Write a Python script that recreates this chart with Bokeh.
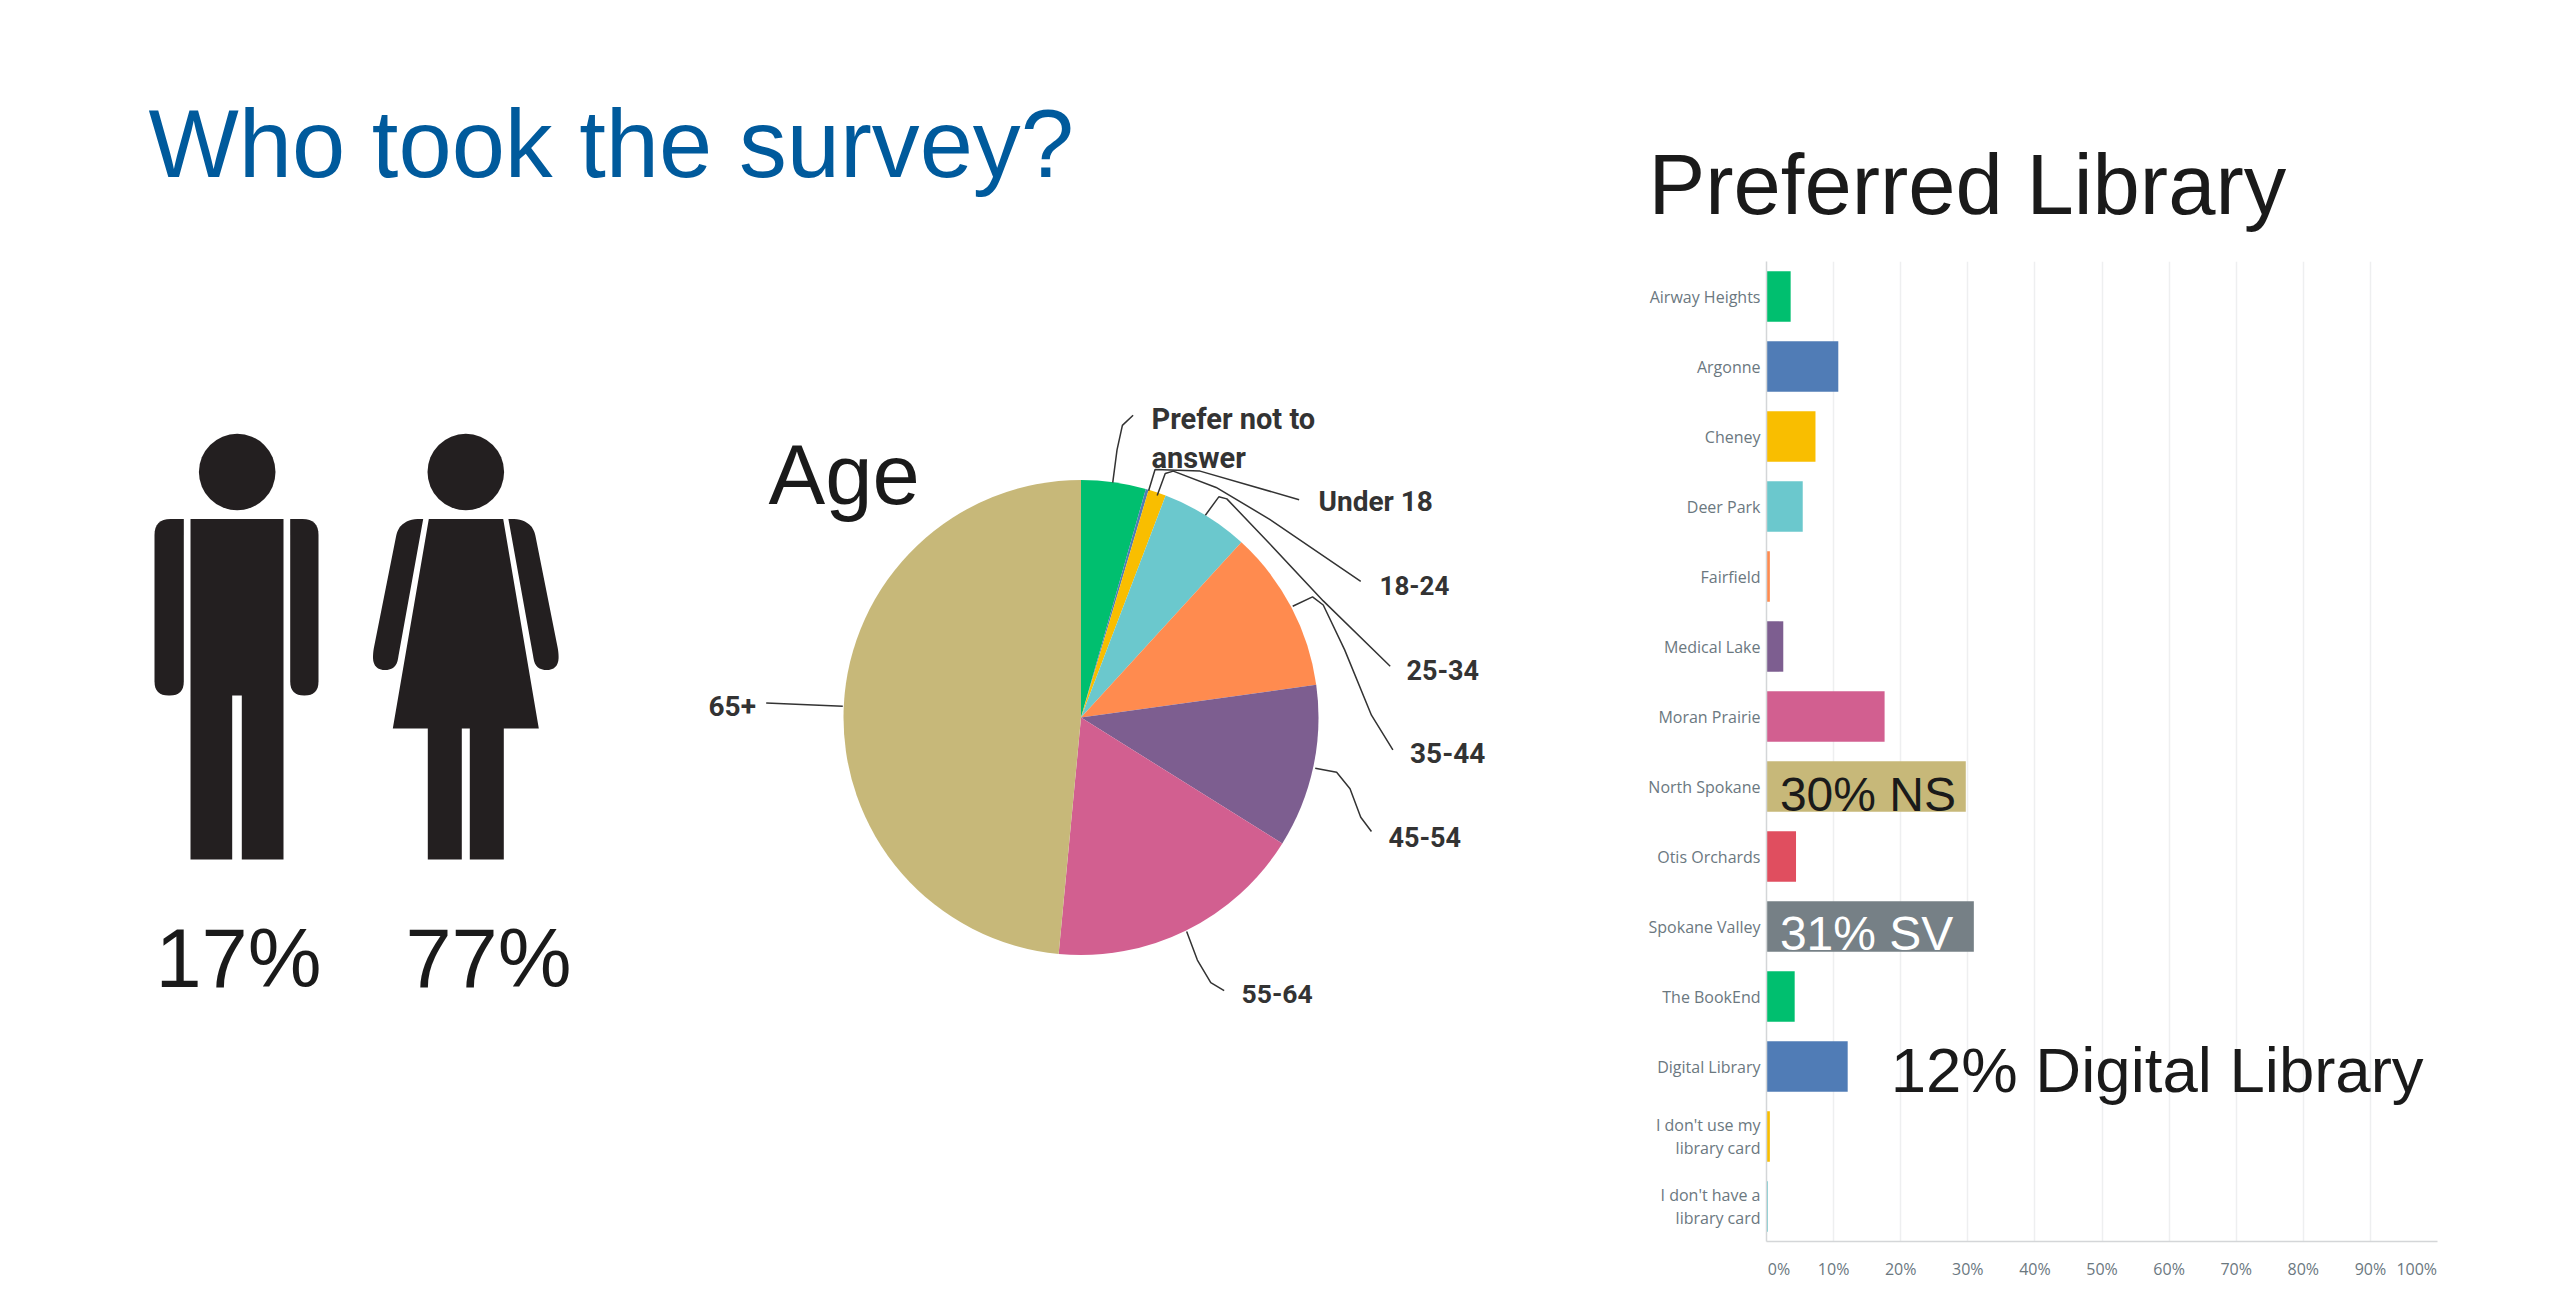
import math
from bokeh.plotting import figure
from bokeh.layouts import row, column
from bokeh.models import Range1d, FactorRange, FixedTicker
from bokeh.core.properties import value
from bokeh.embed import file_html
from bokeh.resources import INLINE

# ---------- data ----------
age_labels = ["Prefer not to answer", "Under 18", "18-24", "25-34", "35-44", "45-54", "55-64", "65+"]
age_values = [4.4, 0.2, 1.2, 6.0, 11.0, 11.1, 17.6, 48.5]
age_colors = ["#00bf6f", "#507cb6", "#f9be00", "#6bc8cd", "#ff8b4f", "#7d5e90", "#d25f90", "#c7b879"]

library_names = ["Airway Heights", "Argonne", "Cheney", "Deer Park", "Fairfield", "Medical Lake",
                 "Moran Prairie", "North Spokane", "Otis Orchards", "Spokane Valley", "The BookEnd",
                 "Digital Library", "I don't use my\nlibrary card", "I don't have a\nlibrary card"]
library_values = [3.6, 10.7, 7.3, 5.4, 0.5, 2.5, 17.6, 29.7, 4.4, 30.9, 4.2, 12.1, 0.5, 0.2]
library_colors = ["#00bf6f", "#507cb6", "#f9be00", "#6bc8cd", "#ff8b4f", "#7d5e90", "#d25f90",
                  "#c7b879", "#e04e5f", "#768086", "#00bf6f", "#507cb6", "#f9be00", "#6bc8cd"]
pct_ticks = list(range(0, 101, 10))
gender_labels = ["17%", "77%"]

INK = "#1a1a1a"
ICON = "#231f20"
ARIAL = value("Liberation Sans")
H = 1311
NB = "\u00a0"


def fy(y):
    return H - y


def rounded(pts, radii, n=8):
    """Polygon with rounded corners, page pixel coordinates."""
    xs, ys = [], []
    m = len(pts)
    for i, (px, py) in enumerate(pts):
        r = radii[i]
        if r == 0:
            xs.append(px); ys.append(py)
            continue
        ax, ay = pts[i - 1]
        bx, by = pts[(i + 1) % m]
        la = math.hypot(ax - px, ay - py)
        lb = math.hypot(bx - px, by - py)
        s = (px + (ax - px) * r / la, py + (ay - py) * r / la)
        e = (px + (bx - px) * r / lb, py + (by - py) * r / lb)
        for k in range(n + 1):
            t = k / n
            xs.append((1 - t) ** 2 * s[0] + 2 * t * (1 - t) * px + t ** 2 * e[0])
            ys.append((1 - t) ** 2 * s[1] + 2 * t * (1 - t) * py + t ** 2 * e[1])
    return xs, [fy(y) for y in ys]


# ---------- left panel ----------
left = figure(width=1640, height=H, x_range=Range1d(0, 1640), y_range=Range1d(0, H),
              output_backend="svg", toolbar_location=None, min_border=0, outline_line_color=None)
left.axis.visible = False
left.grid.visible = False

left.text(x=[148], y=[fy(143)], text=["Who took the survey?"], text_font=ARIAL,
          text_font_size="95.7px", text_color="#005a9c", text_baseline="alphabetic")

# icons
shapes = [
    rounded([(154, 518.6), (183.3, 518.6), (183.3, 695), (154, 695)], [16, 0, 14, 14]),
    rounded([(289.7, 518.6), (318, 518.6), (318, 695), (289.7, 695)], [0, 16, 14, 14]),
    rounded([(190, 518.6), (283, 518.6), (283, 859), (241.3, 859), (241.3, 695), (231.7, 695),
             (231.7, 859), (190, 859)], [0] * 8),
    rounded([(428.3, 518.6), (502.7, 518.6), (538.3, 728), (503.3, 728), (503.3, 859), (469.3, 859),
             (469.3, 728), (461.3, 728), (461.3, 859), (427.3, 859), (427.3, 728), (392.3, 728)], [0] * 12),
    rounded([(422.7, 518.6), (405, 518.6), (396.7, 530), (372.3, 653), (373, 669.6), (396, 669.6), (397.7, 657)],
            [0, 12, 6, 6, 12, 12, 3]),
    rounded([(507.9, 518.6), (525.6, 518.6), (533.9, 530), (558.3, 653), (557.6, 669.6), (534.6, 669.6), (532.9, 657)],
            [0, 12, 6, 6, 12, 12, 3]),
]
left.patches([s[0] for s in shapes], [s[1] for s in shapes], fill_color=ICON, line_color=None)
left.circle(x=[236.7, 465.3], y=[fy(471.5), fy(471.5)], radius=38.3, fill_color=ICON, line_color=None)
left.text(x=[238, 488], y=[fy(958), fy(958)], text=gender_labels, text_font=ARIAL, text_font_size="83px",
          text_color=INK, text_align="center", text_baseline="alphabetic")
left.text(x=[768], y=[fy(474)], text=["Age"], text_font=ARIAL, text_font_size="85px",
          text_color=INK, text_baseline="alphabetic")

# pie
total = sum(age_values)
cx, cy, R = 1080.5, fy(717), 237.5
starts, ends = [], []
acc = 0.0
for v in age_values:
    ends.append(math.pi / 2 - 2 * math.pi * acc / total)
    acc += v
    starts.append(math.pi / 2 - 2 * math.pi * acc / total)
left.wedge(x=[cx] * len(age_values), y=[cy] * len(age_values), radius=R, start_angle=starts, end_angle=ends,
           fill_color=age_colors, line_color=None)


def z(pts):
    return ([680 + a / 1.867 for a, _ in pts], [fy(380 + b / 2.45) for _, b in pts])


leaders = [
    [(807, 250), (815, 170), (825, 110), (845, 85)],
    [(874, 270), (886, 218), (970, 222), (1155, 292)],
    [(890, 282), (905, 228), (920, 222), (1000, 262), (1100, 340), (1270, 492)],
    [(980, 330), (1005, 285), (1020, 290), (1100, 400), (1200, 540), (1325, 700)],
    [(1143, 553), (1180, 530), (1200, 550), (1240, 660), (1290, 820), (1330, 905)],
    [(1185, 950), (1225, 960), (1250, 1000), (1270, 1070), (1290, 1105)],
    [(945, 1350), (965, 1420), (990, 1475), (1015, 1495)],
    [(303, 798), (160, 790)],
]
lx, ly = zip(*[z(l) for l in leaders])
left.multi_line(list(lx), list(ly), line_color="#333333", line_width=1.5)

label_text = ["Prefer not to", "answer", "Under 18", "18-24", "25-34", "35-44", "45-54", "55-64", "65+"]
label_x = [1151, 1151, 1318, 1379, 1406, 1409.5, 1388, 1241, 708]
label_y = [418, 457.5, 501, 585, 669, 752, 836, 993.5, 705]
label_size = [29, 29, 28, 26, 27, 28, 27, 26.5, 28]
for t, x, y, s in zip(label_text, label_x, label_y, label_size):
    left.text(x=[x], y=[fy(y)], text=[t], text_font=value("Roboto"), text_font_style="bold",
              text_font_size=f"{s}px", text_color="#333333", text_baseline="middle")

# ---------- right panel ----------
right = figure(width=920, height=H, x_range=Range1d(0, 100),
               y_range=FactorRange(factors=library_names[::-1], range_padding=0, factor_padding=0),
               output_backend="svg", toolbar_location=None, outline_line_color=None,
               min_border_left=126, min_border_right=123, min_border_top=261, min_border_bottom=70)
right.title.text = "Preferred Library"
right.title.text_font = "Liberation Sans"
right.title.text_font_size = "85px"
right.title.text_font_style = "normal"
right.title.text_color = INK
right.title.align = "left"
right.title.offset = -118
right.title.standoff = 59

right.hbar(y=library_names, left=0, right=library_values, height=0.72, fill_color=library_colors, line_color=None)

right.ygrid.visible = False
right.xgrid.ticker = FixedTicker(ticks=pct_ticks)
right.xgrid.grid_line_color = "#eeeff0"
right.xgrid.grid_line_width = 1.5

right.xaxis.ticker = FixedTicker(ticks=pct_ticks)
tick_text = {t: f"{t}%" for t in pct_ticks}
tick_text[pct_ticks[0]] = NB * 6 + tick_text[pct_ticks[0]]
tick_text[pct_ticks[-1]] = tick_text[pct_ticks[-1]] + NB * 10
right.xaxis.major_label_overrides = tick_text
right.xaxis.major_tick_line_color = None
right.xaxis.minor_tick_line_color = None
right.xaxis.axis_line_color = "#d4d6d8"
right.xaxis.axis_line_width = 1.5
right.xaxis.major_label_text_font = "Open Sans"
right.xaxis.major_label_text_font_size = "16px"
right.xaxis.major_label_text_color = "#6b787f"
right.xaxis.major_label_standoff = 10

right.yaxis.major_tick_line_color = None
right.yaxis.minor_tick_line_color = None
right.yaxis.axis_line_color = "#d4d6d8"
right.yaxis.axis_line_width = 1.5
right.yaxis.major_label_text_font = "Open Sans"
right.yaxis.major_label_text_font_size = "16px"
right.yaxis.major_label_text_color = "#6b787f"
right.yaxis.major_label_standoff = 0
right.yaxis.major_label_text_line_height = 1.05

right.text(x=[2.0], y=["North Spokane"], text=["30% NS"], text_font=ARIAL, text_font_size="48px",
           text_color=INK, text_baseline="alphabetic", y_offset=8)
right.text(x=[2.0], y=["Spokane Valley"], text=["31% SV"], text_font=ARIAL, text_font_size="48px",
           text_color="#ffffff", text_baseline="alphabetic", y_offset=7)
right.text(x=[18.5], y=["Digital Library"], text=["12% Digital Library"], text_font=ARIAL, text_font_size="63.5px",
           text_color=INK, text_baseline="alphabetic", y_offset=3)

layout = row(column(left), column(right), spacing=0)
open("out.html", "w").write(file_html(layout, INLINE))
